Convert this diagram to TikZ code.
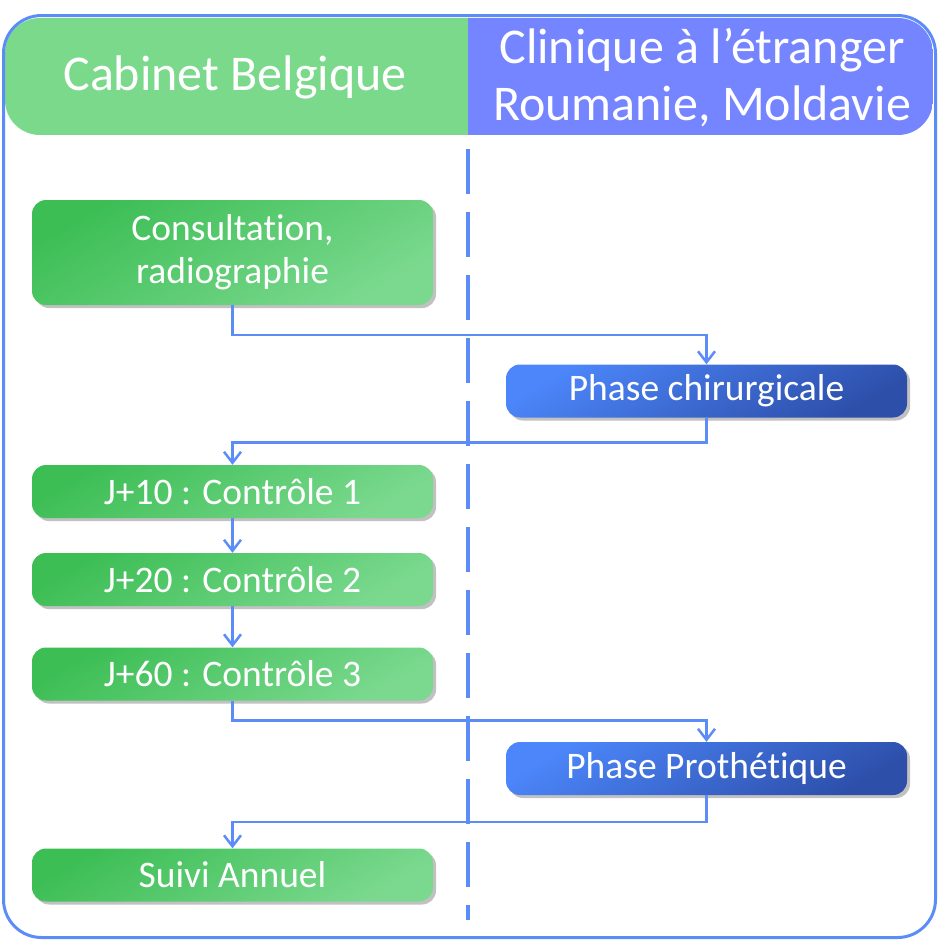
\documentclass[tikz,border=0pt]{standalone}
\usepackage{fontspec}
\setmainfont{Carlito}[Ligatures=NoCommon]
\usetikzlibrary{arrows.meta,shadows}

\definecolor{greendark}{HTML}{3DBE55}
\definecolor{greenlight}{HTML}{7BD98F}
\definecolor{bluelight}{HTML}{4C86FA}
\definecolor{bluedark}{HTML}{2D4FAA}
\definecolor{headgreen}{HTML}{7BD98C}
\definecolor{headblue}{HTML}{7584FF}
\definecolor{lineblue}{HTML}{5B8CF8}

\begin{document}
\begin{tikzpicture}[x=1pt,y=-1pt,
    box/.style={rounded corners=14pt, minimum width=401pt, minimum height=53pt,
        text=white, align=center, font=\fontsize{37.5}{43}\selectfont,
        drop shadow={shadow xshift=3pt, shadow yshift=-3pt, opacity=0.35, fill=black!70}},
    greenbox/.style={box, top color=greendark, bottom color=greenlight, shading angle=30},
    bluebox/.style={box, top color=bluelight, bottom color=bluedark, shading angle=30},
    headtext/.style={text=white, align=center, font=\fontsize{50}{57}\selectfont},
    flow/.style={lineblue, line width=2.5pt, -{Straight Barb[length=11pt, width=17pt, line width=2.5pt]}}]
    \useasboundingbox (0,0) rectangle (941,940);

    % header
    \begin{scope}
        \clip[rounded corners=35pt] (5,18) rectangle (933,135);
        \fill[headgreen] (5,18) rectangle (468,135);
        \fill[headblue] (468,18) rectangle (933,135);
    \end{scope}
    \draw[lineblue, line width=3pt, rounded corners=38pt] (3.5,15.5) rectangle (935.5,937.5);
    \node[headtext] (hbel) at (235,77) {Cabinet Belgique};
    \node[headtext] (hetr) at (702,78) {Clinique à l’étranger\\Roumanie, Moldavie};

    % lane separator
    \draw[lineblue, line width=4.5pt, dash pattern=on 45pt off 18pt] (468,149) -- (468,920);

    % steps
    \node[greenbox, minimum height=105pt] (cons) at (232.5,252.5) {Consultation,\\radiographie};
    \node[bluebox] (chir) at (706.5,391) {Phase chirurgicale};
    \node[greenbox] (ctrl1) at (232.5,491.5) {J+10 : Contrôle 1};
    \node[greenbox] (ctrl2) at (232.5,579.5) {J+20 : Contrôle 2};
    \node[greenbox] (ctrl3) at (232.5,674) {J+60 : Contrôle 3};
    \node[bluebox] (proth) at (706.5,768.5) {Phase Prothétique};
    \node[greenbox] (suivi) at (232.5,875) {Suivi Annuel};

    % connectors
    \draw[flow] (cons.south) -- ++(0,30) -| (chir.north);
    \draw[flow] (chir.south) -- ++(0,25) -| (ctrl1.north);
    \draw[flow] (ctrl1.south) -- (ctrl2.north);
    \draw[flow] (ctrl2.south) -- (ctrl3.north);
    \draw[flow] (ctrl3.south) -- ++(0,20) -| (proth.north);
    \draw[flow] (proth.south) -- ++(0,27) -| (suivi.north);
\end{tikzpicture}
\end{document}
